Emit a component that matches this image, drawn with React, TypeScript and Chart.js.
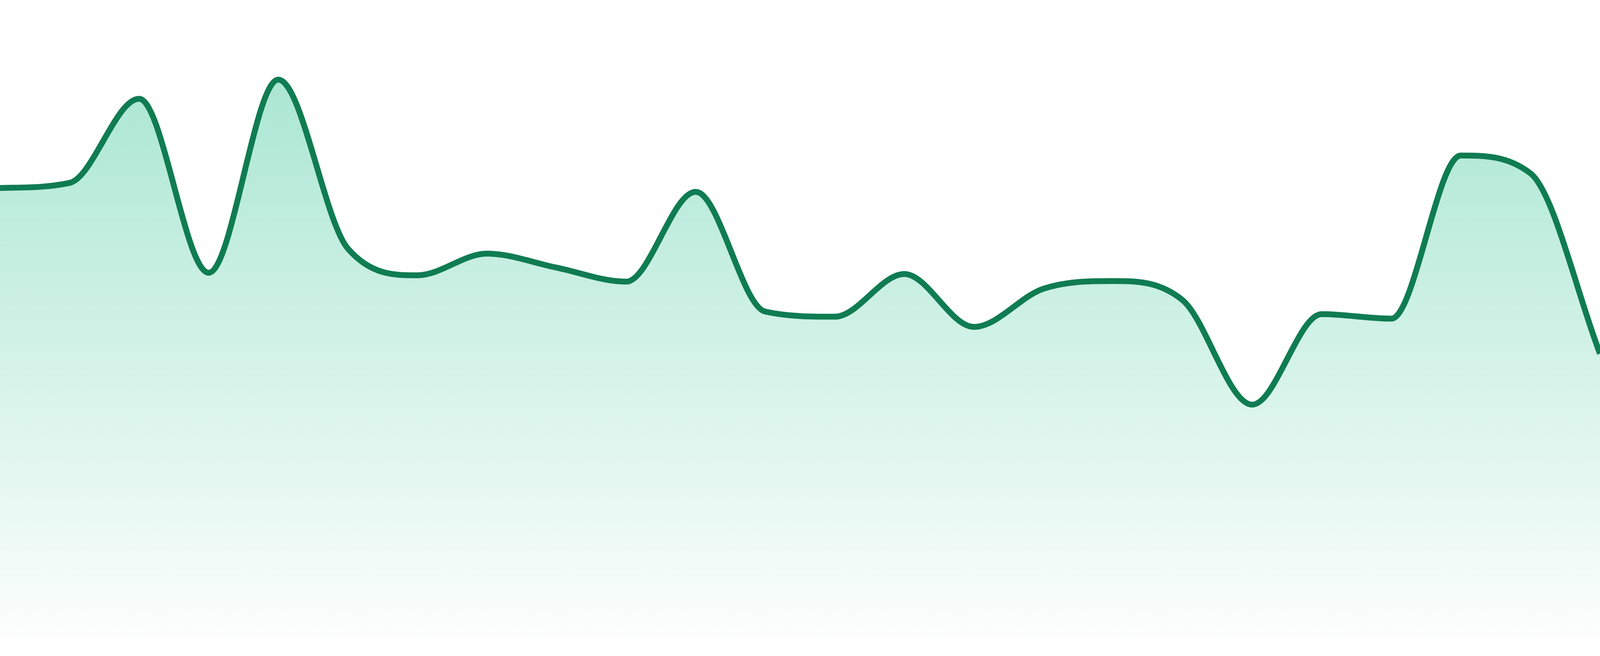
import React, { useEffect, useRef } from "react";
import Chart from "chart.js/auto";

// 24 points, no axes shown
const labels = [
  "1", "2", "3", "4", "5", "6", "7", "8", "9", "10", "11", "12",
  "13", "14", "15", "16", "17", "18", "19", "20", "21", "22", "23", "24",
];

const values = [
  70.5, 71.3, 84.5, 57.2, 87.5, 61.0, 56.8, 60.2, 58.0, 55.8, 69.9, 51.1,
  50.3, 57.0, 48.7, 54.7, 55.9, 52.9, 36.5, 50.7, 50.0, 75.6, 72.8, 44.5,
];

const yMin = 0;
const yMax = 100;

const lineColor = "rgb(16, 124, 82)";

export default function App() {
  const chartRef = useRef<HTMLCanvasElement | null>(null);

  useEffect(() => {
    let chartInstance: Chart<"line"> | null = null;

    if (chartRef.current) {
      const ctx = chartRef.current.getContext("2d");
      if (ctx) {
        chartInstance = new Chart(ctx, {
          type: "line",
          data: {
            labels,
            datasets: [
              {
                label: "trend",
                data: values,
                borderColor: lineColor,
                borderWidth: 15,
                pointRadius: 0,
                pointHoverRadius: 0,
                cubicInterpolationMode: "monotone",
                fill: "start",
                backgroundColor: (context: any) => {
                  const chart = context.chart;
                  const area = chart.chartArea;
                  if (!area) return "rgba(16, 185, 129, 0.2)";
                  const g = chart.ctx.createLinearGradient(0, area.top, 0, area.bottom);
                  g.addColorStop(0, "rgba(16, 185, 129, 0.4)");
                  g.addColorStop(1, "rgba(16, 185, 129, 0.01)");
                  return g;
                },
              },
            ],
          },
          options: {
            animation: false,
            responsive: true,
            maintainAspectRatio: false,
            layout: { padding: { left: 0, right: 0, top: 0, bottom: 48 } },
            plugins: {
              legend: { display: false },
              tooltip: { enabled: false },
            },
            scales: {
              x: { display: false, offset: false },
              y: { display: false, min: yMin, max: yMax },
            },
          },
        });
      }
    }

    return () => {
      if (chartInstance) {
        chartInstance.destroy();
      }
    };
  }, []);

  return (
    <div style={{ position: "fixed", left: 0, top: 0, width: "100vw", height: "100vh", background: "#fff" }}>
      <canvas ref={chartRef}></canvas>
    </div>
  );
}
